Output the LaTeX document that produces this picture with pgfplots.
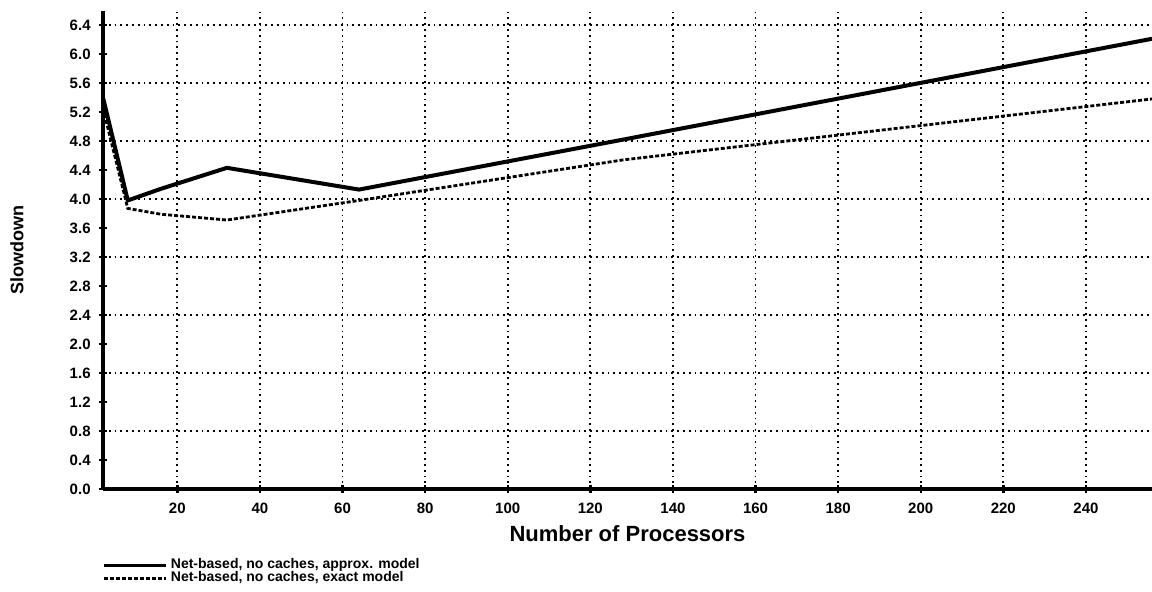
\documentclass[border=0pt]{standalone}
\usepackage{pgfplots}
\pgfplotsset{compat=1.18}
\usepackage{fontspec}
\setmainfont{Liberation Sans}
\begin{document}
\begin{tikzpicture}
\begin{axis}[
  name=ax,
  scale only axis,
  width=524.5pt, height=239.25pt,
  xmin=2, xmax=256, ymin=0, ymax=6.6,
  axis lines=left,
  axis line style={-, line width=2.4pt},
  xtick={20,40,...,240},
  ytick={0,0.4,...,6.41},
  minor ytick={0.8,1.6,...,6.41},
  xmajorgrids=true, yminorgrids=true,
  major grid style={black, line width=0.9pt, dash pattern=on 0.9pt off 2pt},
  minor grid style={black, line width=0.9pt, dash pattern=on 0.9pt off 2pt},
  minor tick length=0pt,
  major tick length=4pt,
  tick align=center,
  tick style={black, line width=1.2pt},
  /pgf/number format/assume math mode=true,
  ticklabel style={font=\bfseries\fontsize{7.5}{8}\selectfont},
  yticklabel style={/pgf/number format/fixed, /pgf/number format/fixed zerofill, /pgf/number format/precision=1, inner sep=0pt, xshift=-4pt},
  xticklabel style={inner sep=0pt, yshift=-5pt},
  xlabel={Number of Processors},
  ylabel={Slowdown},
  xlabel style={at={(axis description cs:0.5,-0.1087)}, anchor=base, font=\bfseries\fontsize{11}{13}\selectfont},
  ylabel style={at={(axis description cs:-0.082,0.5)}, anchor=center, font=\bfseries\fontsize{9}{11}\selectfont},
  legend style={at={(axis description cs:0,-0.146)}, anchor=north west, draw=none, fill=none,
    inner sep=0pt, outer sep=0pt, row sep=0pt, column sep=1.5pt,
    font=\bfseries\fontsize{7}{8}\selectfont,
    nodes={inner sep=0.25pt, text height=4.8pt, text depth=1.2pt}},
  legend cell align=left,
  legend image code/.code={\draw[#1, line width=1.2pt] (0pt,0pt) -- (31pt,0pt);},
]
\addplot[black, line width=2pt, line join=round] coordinates {
  (2,5.4) (8,3.98) (16,4.14) (32,4.43) (64,4.13) (128,4.82) (256,6.21)
};
\addlegendentry{Net-based, no caches, approx. model}
\addplot[black, line width=1.4pt, dash pattern=on 2pt off 1pt] coordinates {
  (2,5.25) (8,3.87) (16,3.79) (32,3.71) (64,3.98) (128,4.54) (256,5.38)
};
\addlegendentry{Net-based, no caches, exact model}
\end{axis}
\pgfresetboundingbox
\path ([shift={(-51.5pt,-51.5pt)}]ax.south west) rectangle ([shift={(0pt,5.25pt)}]ax.north east);
\end{tikzpicture}
\end{document}
